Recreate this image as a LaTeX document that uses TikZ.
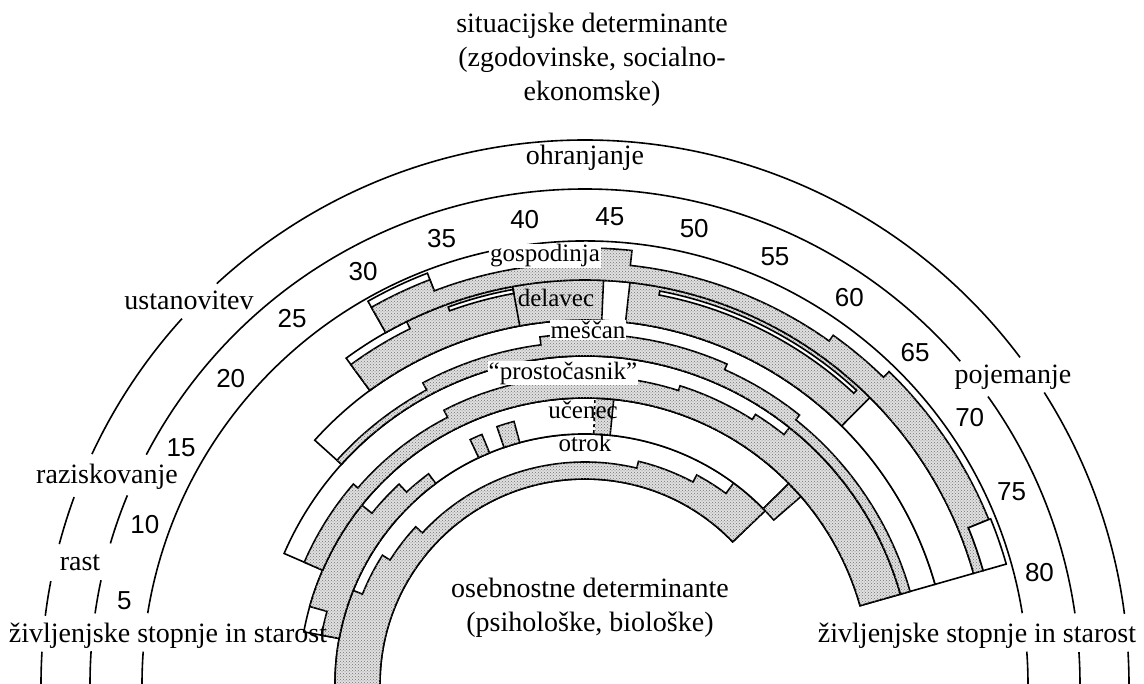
\documentclass[tikz,border=0pt]{standalone}
\usepackage{fontspec}
\setmainfont{Liberation Serif}
\newfontfamily\agefont{Liberation Sans}
\usetikzlibrary{patterns}

% annular piece between two ages and two radii
\newcommand{\band}[4]{({ag(#1)}:#3) arc[start angle={ag(#1)}, end angle={ag(#2)}, radius=#3]
  -- ({ag(#2)}:#4) arc[start angle={ag(#2)}, end angle={ag(#1)}, radius=#4] -- cycle}
% stepped share of a role: inner radius, first age, last age, list age/age/outer radius
\newcommand{\steps}[4]{({ag(#2)}:#1) \foreach \a/\b/\t in {#4} {
  -- ({ag(\a)}:\t) arc[start angle={ag(\a)}, end angle={ag(\b)}, radius=\t]}
  -- ({ag(#3)}:#1) arc[start angle={ag(#3)}, end angle={ag(#2)}, radius=#1] -- cycle}

\tikzset{
  ring/.style={line width=1.6pt},
  role/.style={draw, line width=1.6pt, fill=white},
  dots/.style={draw, line width=1.6pt, fill=black!12,
    postaction={pattern=crosshatch dots, pattern color=black!55}},
  age/.style={font=\agefont\fontsize{26}{26}\selectfont, inner sep=0pt},
  stage/.style={font=\fontsize{28}{34}\selectfont, align=center},
  rolename/.style={font=\fontsize{25}{25}\selectfont, inner sep=1pt},
}

\begin{document}
\begin{tikzpicture}[x=1pt, y=1pt, declare function={ag(\a)=181-2.09*\a;}]
\useasboundingbox (-585,0) rectangle (559,684);

% stage rings, broken where the stage names sit
\foreach \r/\s/\e in {544/0/3.4, 544/7.4/32.4, 544/36.9/132.6, 544/137.8/155, 544/159.9/165.1,
    544/169.1/172.8, 544/176.6/181, 495/0/3.7, 495/8.2/35.5, 495/40.7/152.4, 495/157.6/163.5,
    495/167.9/171.8, 495/176.2/181, 443/0/4.2, 443/9.2/170.8, 443/175.8/181}
  \draw[ring] (\s:\r) arc[start angle=\s, end angle=\e, radius=\r];

% ages
\node[age] (age5) at (169.8:468) {5};
\foreach \n in {10,15,...,80}
  \node[age] (age\n) at ({ag(\n)}:468) {\n};

% otrok
\filldraw[role] \band{-1}{65.6}{205}{250};
\filldraw[dots] \steps{205}{-1}{65.6}{-1/11/250, 11/16/240, 16/21/231, 21/50/222, 50/57/229, 57/61/237, 61/65.6/250};

% ucenec
\filldraw[role] \band{5.5}{65.3}{250}{286};
\filldraw[dots] \steps{250}{5.5}{26}{5.5/8/268, 8/19/286, 19/23/273, 23/26/262};
\foreach \a/\b/\t in {31.5/32.8/270, 34.5/36.3/272, 65.3/67/286}
  \filldraw[dots] \band{\a}{\b}{250}{\t};
\filldraw[dots] \band{44.5}{46.3}{250}{286};
\draw[white, line width=2pt] ({ag(44.5)}:251) -- ({ag(44.5)}:285);
\draw[ring, dashed] ({ag(44.5)}:251) -- ({ag(44.5)}:285);

% prostocasnik
\filldraw[role] \band{11.7}{79}{286}{328};
\filldraw[dots] \steps{286}{11.7}{79}{11.7/20/306, 20/30.5/300, 30.5/52/308, 52/59/313, 59/62/319, 62/79/328};

% mescan
\filldraw[role] \band{20.6}{79}{328}{364};
\filldraw[dots] \steps{328}{20.6}{79}{20.6/30/334, 30/40/342, 40/55/350, 55/62/344, 62/79/338};

% delavec
\filldraw[role] \band{26.2}{79}{364}{404};
\filldraw[dots] \steps{364}{26.2}{44.8}{26.2/31/396, 31/44.8/404};
\filldraw[dots] \steps{364}{46.6}{65}{46.6/65/404};
\filldraw[role] \band{34}{38.6}{397}{401};
\filldraw[role] \band{48.7}{64}{396}{400};
\draw[ring] ({ag(38.6)}:364) -- ({ag(38.6)}:404);

% gospodinja
\filldraw[role] \band{29.4}{33.5}{404}{440};
\filldraw[dots] \steps{404}{29.4}{79}{29.4/33.5/433, 33.5/44.5/421, 44.5/46.5/436, 46.5/60.5/421, 60.5/64.7/428, 64.7/76/436, 76/79/414};
\filldraw[role] \band{76}{79}{414}{438};

% role names
\node[rolename, fill=white] (gosp) at (-40,428) {gospodinja};
\node[rolename] (delav) at (-29,386) {delavec};
\node[rolename, fill=white] (mesc) at (3,354) {meščan};
\node[rolename, fill=white] (prost) at (-22,311) {“prostočasnik”};
\node[rolename] (ucen) at (-2,274) {učenec};
\node[rolename] (otrok) at (0,241) {otrok};

% stage names and determinants
\node[stage] (situ) at (7,624) {situacijske determinante\\(zgodovinske, socialno-\\ekonomske)};
\node[stage] (oseb) at (5,76) {osebnostne determinante\\(psihološke, biološke)};
\node[stage] (ohran) at (0,526) {ohranjanje};
\node[stage] (ustan) at (-396,384) {ustanovitev};
\node[stage] (razis) at (-478,207) {raziskovanje};
\node[stage] (rast) at (-505,121) {rast};
\node[stage] (pojem) at (428,307) {pojemanje};
\node[stage] (stopL) at (-417,48) {življenjske stopnje in starost};
\node[stage] (stopR) at (392,48) {življenjske stopnje in starost};
\end{tikzpicture}
\end{document}
